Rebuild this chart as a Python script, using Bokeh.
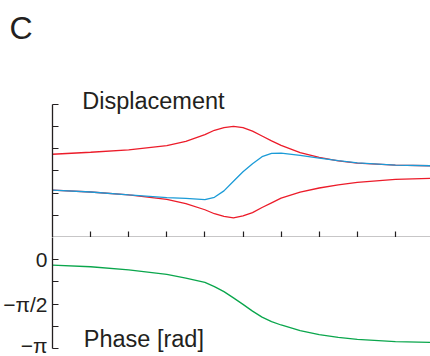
import math
from bokeh.plotting import figure
from bokeh.layouts import column
from bokeh.models import FixedTicker, CustomJSTickFormatter, Label, Range1d, Title
from bokeh.embed import file_html
from bokeh.resources import INLINE

# ---- data ----
x = [0, 1, 2, 3, 3.5, 4, 4.25, 4.5, 4.75, 5, 5.25, 5.5, 5.75, 6, 6.5, 7, 7.5, 8, 9, 10]
red_upper = [3.75, 3.84, 3.95, 4.14, 4.33, 4.63, 4.83, 4.95, 5.01, 4.95, 4.79, 4.57, 4.35, 4.15,
             3.82, 3.61, 3.45, 3.35, 3.26, 3.23]
red_lower = [2.13, 2.05, 1.92, 1.72, 1.53, 1.25, 1.07, 0.95, 0.88, 0.97, 1.12, 1.35, 1.56, 1.77,
             2.04, 2.23, 2.37, 2.48, 2.62, 2.67]
blue = [2.13, 2.05, 1.92, 1.80, 1.76, 1.71, 1.81, 2.10, 2.53, 2.96, 3.32, 3.64, 3.79, 3.80,
        3.70, 3.58, 3.46, 3.36, 3.26, 3.23]
phase = [-0.19, -0.25, -0.36, -0.52, -0.65, -0.80, -0.95, -1.13, -1.35, -1.58, -1.82, -2.03,
         -2.19, -2.31, -2.51, -2.65, -2.75, -2.82, -2.90, -2.93]

x_ticks = [1, 2, 3, 4, 5, 6, 7, 8, 9]
disp_ticks = [0, 1, 2, 3, 4, 5, 6]
phase_ticks = [-math.pi, -3 * math.pi / 4, -math.pi / 2, -math.pi / 4, 0]

INK = "#231f20"
RED = "#ec1c2a"
BLUE = "#1b9bd7"
GREEN = "#0aa64c"
FONT = "Liberation Sans"

W = 430
LEFT = 52
FW = W - LEFT
PX_X = 38.1      # pixels per x unit
PX_D = 22.2      # pixels per displacement unit (= pi/4 of phase)

# ---- top panel: displacement ----
TOP = 48
H1 = 237 - TOP
p1 = figure(frame_width=FW, frame_height=H1, output_backend="svg", toolbar_location=None,
            x_range=Range1d(0, FW / PX_X), y_range=Range1d(0, H1 / PX_D),
            min_border_left=LEFT, min_border_right=0, min_border_top=TOP, min_border_bottom=0)
p1.outline_line_color = None
p1.grid.visible = False
p1.title = Title(text="C", text_font=FONT, text_font_size="32px", text_color=INK,
                 text_font_style="normal", align="left", vertical_align="bottom",
                 offset=9 - LEFT, standoff=6)

p1.line(x, red_upper, line_color=RED, line_width=1.3)
p1.line(x, red_lower, line_color=RED, line_width=1.3)
p1.line(x, blue, line_color=BLUE, line_width=1.3)

blank = CustomJSTickFormatter(code='return "";')
for ax in (p1.xaxis[0], p1.yaxis[0]):
    ax.axis_line_color = INK
    ax.axis_line_width = 1.3
    ax.major_tick_line_color = INK
    ax.major_tick_line_width = 1.2
    ax.major_tick_in = 6
    ax.major_tick_out = 0
    ax.minor_tick_line_color = None
    ax.formatter = blank
    ax.major_label_text_font_size = "0px"
    ax.major_label_standoff = 0
p1.xaxis[0].ticker = FixedTicker(ticks=x_ticks)
p1.yaxis[0].ticker = FixedTicker(ticks=disp_ticks)
p1.yaxis[0].bounds = (0, 6)

p1.add_layout(Label(x=0.78, y=6.16, text="Displacement", text_font=FONT,
                    text_font_size="23.5px", text_color=INK, text_baseline="alphabetic"))

# ---- bottom panel: phase ----
H2 = 356 - 237
ph_top = math.pi / 4
ph_bottom = ph_top - H2 / PX_D * (math.pi / 4)
p2 = figure(frame_width=FW, frame_height=H2, output_backend="svg", toolbar_location=None,
            x_range=p1.x_range, y_range=Range1d(ph_bottom, ph_top),
            x_axis_location=None,
            min_border_left=LEFT, min_border_right=0, min_border_top=0, min_border_bottom=0)
p2.outline_line_color = None
p2.grid.visible = False

p2.line(x, phase, line_color=GREEN, line_width=1.3)

ay = p2.yaxis[0]
ay.ticker = FixedTicker(ticks=phase_ticks)
ay.bounds = (-math.pi, math.pi / 4)
ay.formatter = CustomJSTickFormatter(code="""
const k = Math.round(tick / (Math.PI / 4));
if (k === 0) return "0";
if (k === -2) return "\u2212\u03c0/2";
if (k === -4) return "\u2212\u03c0";
return "";
""")
ay.axis_line_color = INK
ay.axis_line_width = 1.3
ay.major_tick_line_color = INK
ay.major_tick_line_width = 1.2
ay.major_tick_in = 6
ay.major_tick_out = 0
ay.minor_tick_line_color = None
ay.major_label_text_font = FONT
ay.major_label_text_font_size = "21px"
ay.major_label_text_color = INK
ay.major_label_standoff = 5

p2.add_layout(Label(x=0.82, y=-math.pi + 0.32, text="Phase [rad]", text_font=FONT,
                    text_font_size="23.5px", text_color=INK, text_baseline="alphabetic"))

layout = column(p1, p2, spacing=0)
open("out.html", "w").write(file_html(layout, INLINE))
